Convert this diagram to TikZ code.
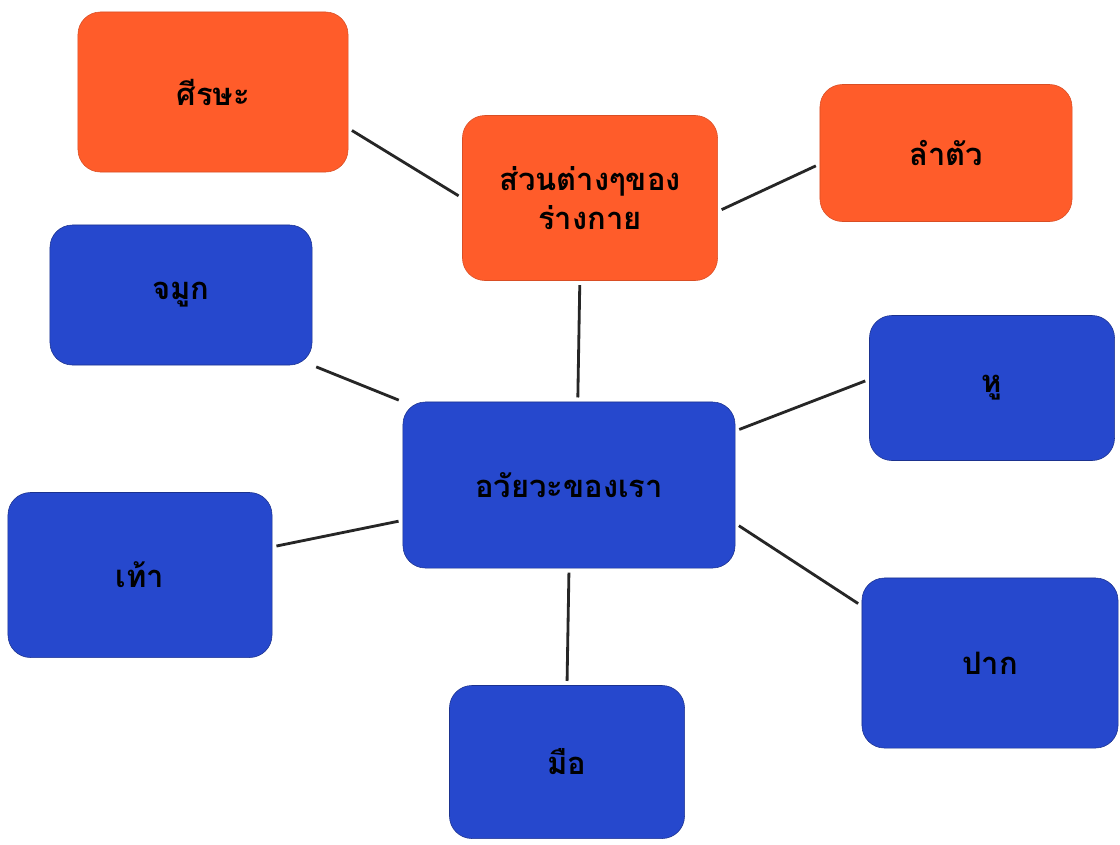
\documentclass[tikz,border=0pt]{standalone}
\usepackage{fontspec}
\newfontfamily\thaifont[Script=Thai]{Loma}

\definecolor{partorange}{RGB}{255,92,42}
\definecolor{organblue}{RGB}{38,72,205}

\tikzset{
    box/.style={rounded corners=16pt, text=black, align=center, inner sep=0pt,
                font=\thaifont\bfseries\fontsize{22}{28}\selectfont},
    part/.style={box, fill=partorange, draw=partorange!85!black},
    organ/.style={box, fill=organblue, draw=organblue!70!black},
    link/.style={line width=2pt, black!85, shorten <=3pt, shorten >=3pt}
}

\begin{document}
\begin{tikzpicture}[x=0.025cm, y=-0.025cm]
    \useasboundingbox (0,0) rectangle (1120,844);
    \fill [white] (0,0) rectangle (1120,844);

    % Body parts
    \node [part, minimum width=6.75cm, minimum height=4cm] (sirsa) at (213,92) {ศีรษะ};
    \node [part, minimum width=6.375cm, minimum height=4.125cm] (parts) at (590,198) {ส่วนต่างๆของ\\ร่างกาย};
    \node [part, minimum width=6.3cm, minimum height=3.425cm] (lamtua) at (946,153) {ลำตัว};

    % Organs
    \node [organ, minimum width=8.3cm, minimum height=4.15cm] (organs) at (569,485) {อวัยวะของเรา};
    \node [organ, minimum width=6.55cm, minimum height=3.5cm] (jamuk) at (181,295) {จมูก};
    \node [organ, minimum width=6.125cm, minimum height=3.625cm] (hu) at (992,388) {หู};
    \node [organ, minimum width=6.6cm, minimum height=4.125cm] (thao) at (140,575) {เท้า};
    \node [organ, minimum width=6.4cm, minimum height=4.25cm] (pak) at (990,663) {ปาก};
    \node [organ, minimum width=5.875cm, minimum height=3.825cm] (mue) at (567,762) {มือ};

    % Links
    \draw [link] (sirsa.-15) -- (parts.west);
    \draw [link] (parts.-6) -- (lamtua.185);
    \draw [link] (parts.263) -- (organs.84);
    \draw [link] (jamuk.south east) -- (organs.north west);
    \draw [link] (organs.18) -- (hu.176);
    \draw [link] (thao.12) -- (organs.192);
    \draw [link] (organs.-13) -- (pak.156);
    \draw [link] (organs.south) -- (mue.north);
\end{tikzpicture}
\end{document}
